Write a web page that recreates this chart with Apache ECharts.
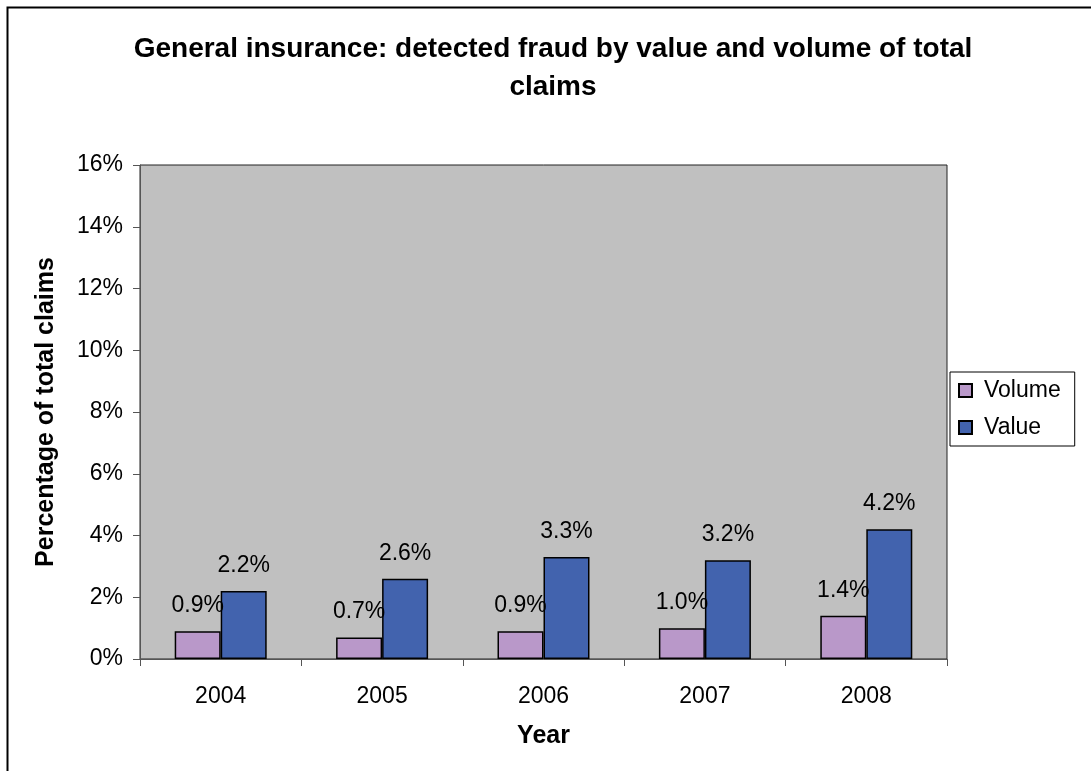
<!DOCTYPE html>
<html>
<head>
<meta charset="utf-8">
<script src="https://cdn.jsdelivr.net/npm/echarts@6/dist/echarts.min.js"></script>
<style>
html,body{margin:0;padding:0;background:#fff;}
#chart{width:1091px;height:771px;}
</style>
</head>
<body>
<div id="chart"></div>
<script>
const years = ['2004', '2005', '2006', '2007', '2008'];
const volumeValues = [0.9, 0.7, 0.9, 1.0, 1.4];
const valueValues = [2.2, 2.6, 3.3, 3.2, 4.2];
const seriesNames = ['Volume', 'Value'];
const yTicks = { min: 0, max: 16, interval: 2 };

const FONT = '"Liberation Sans", Arial, sans-serif';
const chart = echarts.init(document.getElementById('chart'), null, { renderer: 'canvas' });

const labelStyle = {
  show: true,
  position: 'top',
  distance: 14,
  fontFamily: FONT,
  fontSize: 23,
  color: '#000',
  formatter: p => p.value.toFixed(1) + '%'
};

chart.setOption({
  animation: false,
  backgroundColor: '#fff',
  graphic: [{
    type: 'rect',
    shape: { x: 7.5, y: 7.5, width: 1200, height: 900 },
    style: { fill: 'none', stroke: '#000', lineWidth: 2 },
    silent: true,
    z: 100
  }],
  title: {
    text: 'General insurance: detected fraud by value and volume of total\nclaims',
    left: 553,
    top: 30,
    padding: 0,
    textAlign: 'center',
    textStyle: {
      fontFamily: FONT,
      fontSize: 28,
      fontWeight: 'bold',
      color: '#000',
      lineHeight: 38
    }
  },
  legend: {
    orient: 'vertical',
    left: 950,
    top: 372,
    padding: [7, 14, 7, 8],
    itemGap: 14,
    itemWidth: 13,
    itemHeight: 13,
    icon: 'rect',
    backgroundColor: '#fff',
    borderColor: '#000',
    borderWidth: 1,
    textStyle: { fontFamily: FONT, fontSize: 23, color: '#000', padding: [0, 0, 0, 7] },
    data: seriesNames
  },
  grid: {
    left: 140,
    top: 165,
    width: 807,
    height: 494,
    show: true,
    backgroundColor: '#C0C0C0',
    borderColor: '#222',
    borderWidth: 1
  },
  xAxis: {
    type: 'category',
    data: years,
    name: 'Year',
    nameLocation: 'middle',
    nameGap: 65,
    nameTextStyle: { fontFamily: FONT, fontSize: 25, fontWeight: 'bold', color: '#000' },
    axisLine: { lineStyle: { color: '#555', width: 1 } },
    axisTick: { show: true, length: 7, inside: false, alignWithLabel: false, lineStyle: { color: '#555' } },
    axisLabel: { fontFamily: FONT, fontSize: 23, color: '#000', margin: 26 },
    splitLine: { show: false }
  },
  yAxis: {
    type: 'value',
    min: yTicks.min,
    max: yTicks.max,
    interval: yTicks.interval,
    name: 'Percentage of total claims',
    nameLocation: 'middle',
    nameGap: 81,
    nameRotate: 90,
    nameTextStyle: { fontFamily: FONT, fontSize: 25, fontWeight: 'bold', color: '#000' },
    axisLine: { show: true, lineStyle: { color: '#555', width: 1 } },
    axisTick: { show: true, length: 7, lineStyle: { color: '#555' } },
    axisLabel: { fontFamily: FONT, fontSize: 23, color: '#000', margin: 17, formatter: v => v + '%' },
    splitLine: { show: false }
  },
  series: [
    {
      name: seriesNames[0],
      type: 'bar',
      data: volumeValues,
      barGap: '0%',
      barCategoryGap: '43%',
      itemStyle: { color: '#B998C9', borderColor: '#000', borderWidth: 1.5 },
      label: labelStyle
    },
    {
      name: seriesNames[1],
      type: 'bar',
      data: valueValues,
      barGap: '0%',
      barCategoryGap: '43%',
      itemStyle: { color: '#4263AE', borderColor: '#000', borderWidth: 1.5 },
      label: labelStyle
    }
  ]
});
</script>
</body>
</html>
